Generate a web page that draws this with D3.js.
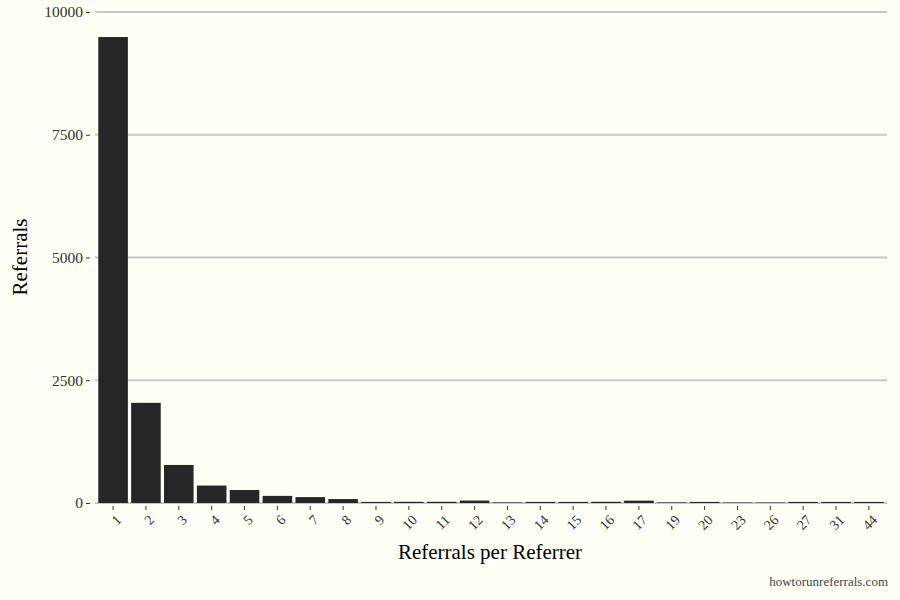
<!DOCTYPE html><html><head><script src="https://cdn.jsdelivr.net/npm/d3@7"></script>
<style>body{margin:0;background:#fffff5}</style></head><body><script>
const categories=["1","2","3","4","5","6","7","8","9","10","11","12","13","14","15","16","17","19","20","23","26","27","31","44"];
const referrals=[9490,2040,775,355,265,145,120,80,22,24,24,50,12,22,22,24,48,12,22,10,10,22,22,22];
const yTicks=[0,2500,5000,7500,10000];
const W=900,H=600,m={l:95,r:13,t:12,b:97};
const svg=d3.select("body").append("svg").attr("width",W).attr("height",H).style("background","#fffff5").style("font-family","'Liberation Serif',serif");
const x=d3.scaleBand().domain(categories).range([m.l,W-m.r]).padding(0.1);
const y=d3.scaleLinear().domain([0,10000]).range([H-m.b,m.t]);
svg.append("g").selectAll("line").data(yTicks).join("line").attr("x1",m.l).attr("x2",W-m.r).attr("y1",d=>y(d)).attr("y2",d=>y(d)).attr("stroke","#c8c8c8").attr("stroke-width",1.8);
const ya=svg.append("g").attr("transform",`translate(${m.l-5},0)`).call(d3.axisLeft(y).tickValues(yTicks).tickSize(4).tickFormat(d3.format("d")));
ya.select(".domain").remove();ya.selectAll("line").attr("stroke","#333");ya.selectAll("text").attr("font-size",15.5).attr("fill","#333").attr("font-family","'Liberation Serif',serif");
svg.append("g").selectAll("rect").data(categories).join("rect").attr("x",d=>x(d)).attr("width",x.bandwidth()).attr("y",(d,i)=>y(referrals[i])).attr("height",(d,i)=>y(0)-y(referrals[i])).attr("fill","#262626");
const xa=svg.append("g").attr("transform",`translate(0,${H-m.b+3})`).call(d3.axisBottom(x).tickSize(4));
xa.select(".domain").remove();xa.selectAll("line").attr("stroke","#333");
xa.selectAll("text").attr("font-size",14).attr("fill","#333").attr("font-family","'Liberation Serif',serif").attr("text-anchor","end").attr("x",-4).attr("y",12).attr("dy","0.35em").attr("transform","rotate(-45)");
svg.append("text").attr("x",490).attr("y",559).attr("text-anchor","middle").attr("font-size",21).text("Referrals per Referrer");
svg.append("text").attr("transform","translate(27,257) rotate(-90)").attr("text-anchor","middle").attr("font-size",21).text("Referrals");
svg.append("text").attr("x",888).attr("y",586).attr("text-anchor","end").attr("font-size",13).attr("fill","#444").text("howtorunreferrals.com");
</script></body></html>
